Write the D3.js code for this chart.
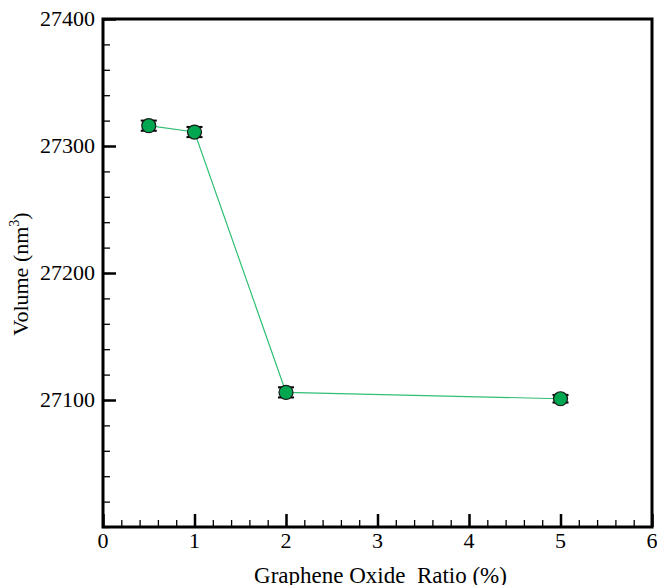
<!DOCTYPE html>
<html>
<head>
<meta charset="utf-8">
<script src="https://cdn.jsdelivr.net/npm/d3@7"></script>
<style>
  body { margin: 0; background: #fff; }
</style>
</head>
<body>
<div id="chart-area"></div>
<script>
// data
const ratio = [0.5, 1, 2, 5];
const volume = [27316, 27311, 27106, 27101];
const volErr = [4, 4, 4, 3];
const xTicks = [0, 1, 2, 3, 4, 5, 6];
const yTicks = [27100, 27200, 27300, 27400];

const font = "'Liberation Serif', 'Times New Roman', serif";

const margin = {top: 19, right: 5, bottom: 58, left: 103},
    width = 657 - margin.left - margin.right,
    height = 585 - margin.top - margin.bottom;

const svg = d3.select("#chart-area")
  .append("svg")
    .attr("width", 657)
    .attr("height", 585)
  .append("g")
    .attr("transform", `translate(${margin.left}, ${margin.top})`);

const x = d3.scaleLinear().domain([0, 6]).range([0, width]);
const y = d3.scaleLinear().domain([27000, 27400]).range([height, 0]);

// minor ticks (inward)
svg.append("g")
  .attr("transform", `translate(0, ${height})`)
  .call(d3.axisTop(x).tickValues(d3.range(0, 6.001, 0.2)).tickSize(7).tickFormat(""))
  .call(g => g.select(".domain").remove())
  .selectAll("line").attr("stroke-width", 1.3);
svg.append("g")
  .call(d3.axisRight(y).tickValues(d3.range(27000, 27400.1, 20)).tickSize(7).tickFormat(""))
  .call(g => g.select(".domain").remove())
  .selectAll("line").attr("stroke-width", 1.3);

// major ticks
const xAxis = svg.append("g")
  .attr("transform", `translate(0, ${height})`)
  .call(d3.axisTop(x).tickValues(xTicks).tickSize(13).tickFormat(""));
xAxis.select(".domain").remove();
xAxis.selectAll("line").attr("stroke-width", 2.5);

const yAxis = svg.append("g")
  .call(d3.axisRight(y).tickValues(yTicks).tickSize(13).tickFormat(""));
yAxis.select(".domain").remove();
yAxis.selectAll("line").attr("stroke-width", 2.5);

// tick labels
svg.selectAll(".xlab")
  .data(xTicks)
  .enter()
  .append("text")
    .attr("x", d => x(d))
    .attr("y", height + 21)
    .attr("text-anchor", "middle")
    .attr("font-family", font)
    .attr("font-size", 22)
    .text(d => d);

svg.selectAll(".ylab")
  .data(yTicks)
  .enter()
  .append("text")
    .attr("x", -8)
    .attr("y", d => y(d))
    .attr("dy", "0.32em")
    .attr("text-anchor", "end")
    .attr("font-family", font)
    .attr("font-size", 22)
    .text(d => d);

// frame
svg.append("rect")
  .attr("width", width)
  .attr("height", height)
  .attr("fill", "none")
  .attr("stroke", "#000")
  .attr("stroke-width", 3);

// line
const line = d3.line()
  .x((d, i) => x(ratio[i]))
  .y(d => y(d));
svg.append("path")
  .datum(volume)
  .attr("fill", "none")
  .attr("stroke", "#2fbf74")
  .attr("stroke-width", 1.2)
  .attr("d", line);

// error bars
const eb = svg.selectAll(".err")
  .data(volume)
  .enter()
  .append("g");
eb.append("line")
  .attr("x1", (d, i) => x(ratio[i])).attr("x2", (d, i) => x(ratio[i]))
  .attr("y1", (d, i) => y(d + volErr[i])).attr("y2", (d, i) => y(d - volErr[i]))
  .attr("stroke", "#000").attr("stroke-width", 1.5);
eb.append("line")
  .attr("x1", (d, i) => x(ratio[i]) - 8).attr("x2", (d, i) => x(ratio[i]) + 8)
  .attr("y1", (d, i) => y(d + volErr[i])).attr("y2", (d, i) => y(d + volErr[i]))
  .attr("stroke", "#000").attr("stroke-width", 2);
eb.append("line")
  .attr("x1", (d, i) => x(ratio[i]) - 8).attr("x2", (d, i) => x(ratio[i]) + 8)
  .attr("y1", (d, i) => y(d - volErr[i])).attr("y2", (d, i) => y(d - volErr[i]))
  .attr("stroke", "#000").attr("stroke-width", 2);

// markers
svg.selectAll(".pt")
  .data(volume)
  .enter()
  .append("circle")
    .attr("cx", (d, i) => x(ratio[i]))
    .attr("cy", d => y(d))
    .attr("r", 7)
    .attr("fill", "#00a650")
    .attr("stroke", "#1a1a1a")
    .attr("stroke-width", 1.2);

// axis titles
svg.append("text")
  .attr("x", width / 2 + 3)
  .attr("y", height + 56)
  .attr("text-anchor", "middle")
  .attr("font-family", font)
  .attr("font-size", 23)
  .style("white-space", "pre")
  .attr("xml:space", "preserve")
  .text("Graphene Oxide  Ratio (%)");

const yt = svg.append("text")
  .attr("transform", `translate(-75, ${height / 2 + 1}) rotate(-90)`)
  .attr("text-anchor", "middle")
  .attr("font-family", font)
  .attr("font-size", 22);
yt.append("tspan").text("Volume (nm");
yt.append("tspan").attr("dy", -9).attr("font-size", 14).text("3");
yt.append("tspan").attr("dy", 9).text(")");
</script>
</body>
</html>
